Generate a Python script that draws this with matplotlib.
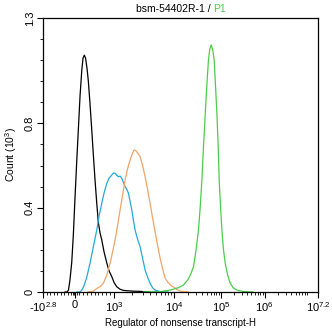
import numpy as np
import matplotlib
matplotlib.use("Agg")
import matplotlib.pyplot as plt

plt.rcParams['font.family'] = ['Liberation Sans', 'DejaVu Sans']
plt.rcParams['mathtext.fontset'] = 'custom'
plt.rcParams['mathtext.rm'] = 'Liberation Sans'
plt.rcParams['mathtext.it'] = 'Liberation Sans'

# x in display channels (0 = -10^2.8, 274.7 = 10^7.2), y in counts (10^3)
black_x = [22, 24, 25.5, 27, 28.7, 30.3, 32, 33.7, 35.3, 37, 38.7, 40, 41.3, 42.5, 44, 45.3, 47, 48.7,
           50.3, 52, 53.7, 55.3, 57, 58.7, 61, 63.7, 66, 68.7, 71, 73.7, 77, 80, 83.7, 90, 97, 107]
black_y = [0, 0.0, 0.01, 0.06, 0.14, 0.27, 0.45, 0.62, 0.77, 0.93, 1.05, 1.11, 1.124, 1.11, 1.06, 1.0, 0.89, 0.77,
           0.65, 0.53, 0.42, 0.33, 0.28, 0.247, 0.19, 0.138, 0.10, 0.073, 0.045, 0.025, 0.013, 0.008, 0.006, 0.004, 0.003, 0]

cyan_x = [34, 37, 39, 41, 43.7, 47, 50.3, 53.7, 56, 58.7, 61, 63.7, 66, 68.7, 70.5, 72, 73.5, 75.3, 77, 78.7,
          80.3, 82, 83.7, 85.3, 87, 88.7, 90.3, 92, 94.5, 97, 99.5, 102, 104.5, 107, 109.5, 112, 117, 125]
cyan_y = [0, 0.0, 0.01, 0.03, 0.07, 0.137, 0.215, 0.294, 0.36, 0.421, 0.47, 0.515, 0.54, 0.555, 0.565, 0.563, 0.555, 0.547, 0.55, 0.539,
          0.52, 0.50, 0.487, 0.469, 0.43, 0.389, 0.34, 0.294, 0.25, 0.215, 0.16, 0.104, 0.07, 0.041, 0.02, 0.009, 0.002, 0]

orange_x = [45, 50, 53.7, 57, 60.3, 63.7, 67, 69.5, 72, 74.5, 77, 79.5, 82, 84.5, 87, 89.5, 91, 92.5, 94.5, 97,
            99.5, 102, 104.5, 107, 109.5, 112, 114.5, 117, 119.5, 122, 125, 128, 131, 134, 137, 145]
orange_y = [0, 0.003, 0.017, 0.025, 0.041, 0.08, 0.137, 0.19, 0.246, 0.315, 0.389, 0.46, 0.531, 0.585, 0.626, 0.66, 0.674, 0.672, 0.66, 0.642,
            0.60, 0.547, 0.485, 0.42, 0.35, 0.285, 0.22, 0.16, 0.11, 0.065, 0.045, 0.03, 0.022, 0.012, 0.004, 0]

green_x = [100, 117, 127, 135, 140.3, 145, 148, 150.3, 152, 153.7, 155.3, 157, 158.7, 160.3, 161.7, 163, 164.3, 165.3, 166.5, 168,
           169.5, 171, 172.3, 173.7, 175, 176, 177.3, 178.7, 180.3, 182, 184.5, 187, 190, 193.7, 200.3, 210]
green_y = [0, 0.002, 0.009, 0.02, 0.033, 0.06, 0.09, 0.12, 0.17, 0.23, 0.294, 0.40, 0.531, 0.689, 0.81, 0.926, 1.03, 1.101, 1.15, 1.172,
           1.15, 1.101, 0.98, 0.848, 0.69, 0.531, 0.41, 0.294, 0.20, 0.137, 0.08, 0.041, 0.02, 0.009, 0.002, 0]

xtick_pos = [0, 32, 71, 131, 177.7, 221.3, 274.7]
xtick_labels = [r'-10$^{2.8}$', '0', r'10$^{3}$', r'10$^{4}$', r'10$^{5}$', r'10$^{6}$', r'10$^{7.2}$']
ytick_pos = [0, 0.4, 0.8, 1.3]
ytick_labels = ['0', '0.4', '0.8', '1.3']

fig = plt.figure(figsize=(3.32, 3.35), dpi=100)
ax = fig.add_axes([43/332, 1 - 292/335, 275/332, 274/335])

ax.plot(black_x, black_y, color='black', lw=0.9)
ax.plot(cyan_x, cyan_y, color='#22aad8', lw=0.9)
ax.plot(orange_x, orange_y, color='#f0a468', lw=0.9)
ax.plot(green_x, green_y, color='#4ccc4c', lw=0.9)

ax.set_xlim(0, 274.7)
ax.set_ylim(0, 1.3)

# minor ticks: linear below 10^3, log-spaced in each decade above
minor = list(np.linspace(0, 32, 10)) + [29.5, 30.5, 33.5] + list(np.linspace(32, 71, 11))
decades = [(71, 131), (131, 177.7), (177.7, 221.3), (221.3, 265.8)]
for a, b in decades:
    minor += [a + np.log10(k) * (b - a) for k in range(2, 10)]
ax.set_xticks(xtick_pos)
ax.set_xticklabels(xtick_labels, fontsize=8)
ax.set_xticks(minor, minor=True)
ax.set_yticks(ytick_pos)
ax.set_yticklabels(ytick_labels, fontsize=8, rotation=90, va='center')
ax.set_yticks(np.arange(0, 1.31, 0.1), minor=True)
ax.tick_params(which='major', length=4, width=0.8, direction='out', pad=2)
ax.tick_params(which='minor', length=2.5, width=0.6, direction='out')
for s in ax.spines.values():
    s.set_linewidth(0.9)

ax.set_xlabel('Regulator of nonsense transcript-H', fontsize=7, labelpad=3)
ax.set_ylabel(r'Count (10$^{3}$)', fontsize=7.5, labelpad=4)

fig.text(0.642, 1 - 9/335, 'bsm-54402R-1 / ', ha='right', va='center', fontsize=7.5)
fig.text(0.642, 1 - 9/335, 'P1', ha='left', va='center', fontsize=7.5, color='#4ccc4c')

fig.savefig('out.png', dpi=100)
